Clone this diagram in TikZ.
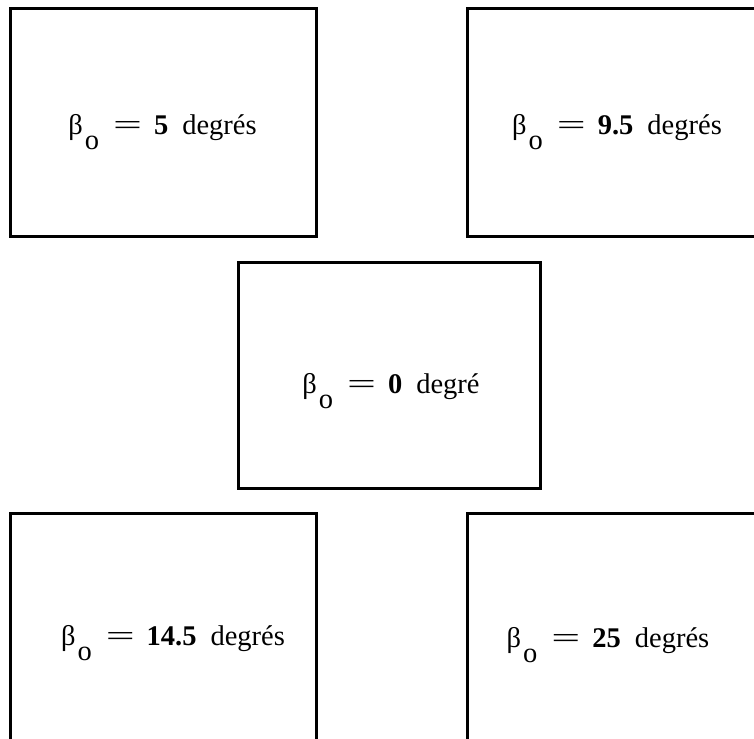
\documentclass[tikz,border=0pt]{standalone}
\usepackage{graphicx}
\usepackage{fontspec}
\newfontfamily\lblfont{Liberation Serif}
\newcommand\betalabel[2]{β\kern2pt\raisebox{-15pt}{o}\kern14pt\scalebox{1.8}[1]{=}\kern12pt\textbf{#1}\kern14pt #2}
\tikzset{
  panel/.style={draw, line width=3pt, inner sep=0pt, outer sep=0pt, rectangle},
  lbl/.style={anchor=base, inner sep=0pt, font=\lblfont\fontsize{28.5}{32}\selectfont}
}
\begin{document}
\begin{tikzpicture}[x=1pt,y=-1pt]
\useasboundingbox (0,0) rectangle (754,738);
\clip (0,0) rectangle (754,738);
% panels (centres and sizes in pixel units)
\node[panel, minimum width=306pt, minimum height=227pt] (A) at (163,122.5) {};
\node[panel, minimum width=323pt, minimum height=227pt] (B) at (628.5,122.5) {};
\node[panel, minimum width=302pt, minimum height=226pt] (C) at (389,375) {};
\node[panel, minimum width=306pt, minimum height=287pt] (D) at (163,656.5) {};
\node[panel, minimum width=323pt, minimum height=287pt] (E) at (628.5,656.5) {};
% labels
\node[lbl] (tA) at (162.5,135) {\betalabel{5}{degrés}};
\node[lbl] (tB) at (617,135) {\betalabel{9.5}{degrés}};
\node[lbl] (tC) at (391,393) {\betalabel{0}{degré}};
\node[lbl] (tD) at (173,645) {\betalabel{14.5}{degrés}};
\node[lbl] (tE) at (608,647) {\betalabel{25}{degrés}};
\end{tikzpicture}
\end{document}
